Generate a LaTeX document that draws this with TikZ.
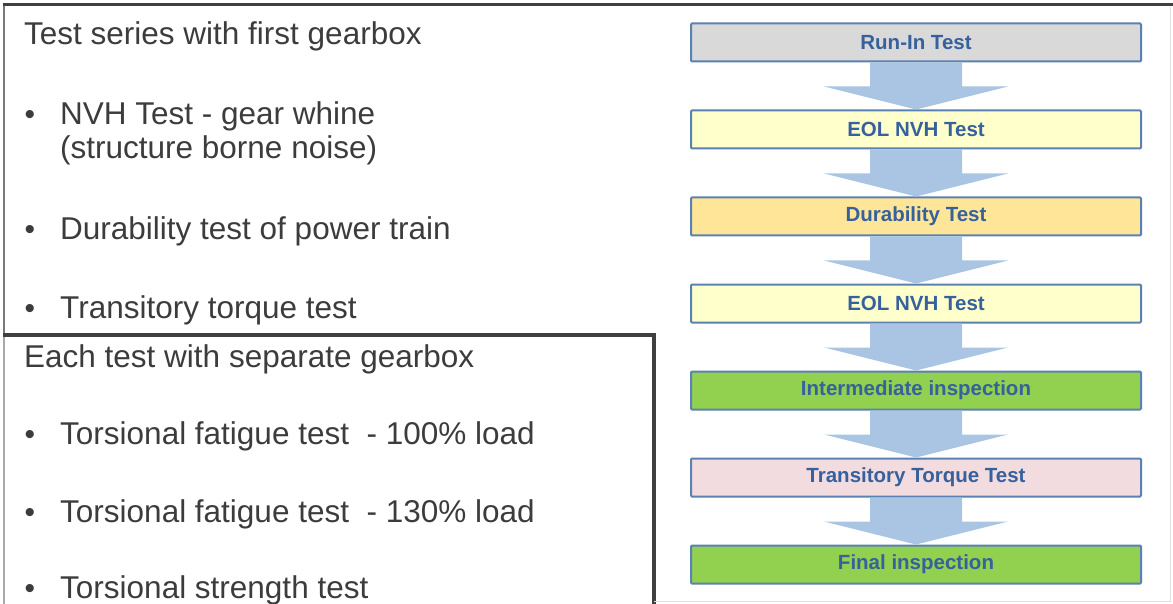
\documentclass[tikz,border=0pt]{standalone}
\usepackage{fontspec}
\setmainfont{Liberation Sans}
\usepackage{tikz}
\usetikzlibrary{positioning, calc}
\definecolor{TextGrey}{HTML}{3C3C3C}
\definecolor{FrameGrey}{HTML}{404040}
\definecolor{StepBlue}{HTML}{5B80B2}
\definecolor{StepText}{HTML}{36619C}
\definecolor{FlowBlue}{HTML}{A9C5E3}
\definecolor{RunGrey}{HTML}{D9D9D9}
\definecolor{NvhYellow}{HTML}{FFFFCC}
\definecolor{DurOrange}{HTML}{FFE597}
\definecolor{InspGreen}{HTML}{92D050}
\definecolor{TorqPink}{HTML}{F2DCE0}

\begin{document}
\begin{tikzpicture}[x=1pt, y=-1pt,
    stepbox/.style={draw=StepBlue, line width=2pt, rounded corners=1pt,
      minimum width=450pt, minimum height=38pt, inner sep=0pt,
      text=StepText, font=\fontsize{20.5}{24}\selectfont\bfseries},
    head/.style={anchor=base west, inner sep=0pt, text=TextGrey,
      font=\fontsize{31.5}{36}\selectfont},
    item/.style={head},
    bul/.style={anchor=base, inner sep=0pt, text=TextGrey,
      font=\fontsize{30}{36}\selectfont}]
  \useasboundingbox (0,0) rectangle (1173,604);
  % Frames
  \draw[FrameGrey!70, line width=2pt] (4,335) -- (4,5);
  \draw[FrameGrey, line width=3pt] (3,5) -- (1173,5);
  \draw[FrameGrey!45, line width=1.5pt] (4,335) -- (4,604);
  \draw[FrameGrey, line width=3.5pt] (3,335) -- (654,335) -- (654,604);
  \draw[black!12, line width=1pt] (654,601) -- (1170,601) -- (1170,7);
  % Test series with first gearbox
  \node[head] (first) at (24,45) {Test series with first gearbox};
  \node[bul] (bul1) at (30,125) {•};
  \node[item] (nvh) at (60,125) {NVH Test - gear whine};
  \node[item] (noise) at (60,159) {(structure borne noise)};
  \node[bul] (bul2) at (30,240) {•};
  \node[item] (durable) at (60,240) {Durability test of power train};
  \node[bul] (bul3) at (30,318) {•};
  \node[item] (transit) at (60,318) {Transitory torque test};
  % Each test with separate gearbox
  \node[head] (separate) at (24,367) {Each test with separate gearbox};
  \node[bul] (bul4) at (30,444) {•};
  \node[item] (fat100) at (60,444) {Torsional fatigue test \ - 100\% load};
  \node[bul] (bul5) at (30,522) {•};
  \node[item] (fat130) at (60,522) {Torsional fatigue test \ - 130\% load};
  \node[bul] (bul6) at (30,598) {•};
  \node[item] (strength) at (60,598) {Torsional strength test};
  % Test sequence
  \node[stepbox, fill=RunGrey] (runin) at (916,42.5) {Run-In Test};
  \node[stepbox, fill=NvhYellow, below=47pt of runin] (eolone) {EOL NVH Test};
  \node[stepbox, fill=DurOrange, below=47pt of eolone] (durtest) {Durability Test};
  \node[stepbox, fill=NvhYellow, below=47pt of durtest] (eoltwo) {EOL NVH Test};
  \node[stepbox, fill=InspGreen, below=47pt of eoltwo] (interinsp) {Intermediate inspection};
  \node[stepbox, fill=TorqPink, below=47pt of interinsp] (torqtest) {Transitory Torque Test};
  \node[stepbox, fill=InspGreen, below=47pt of torqtest] (finalinsp) {Final inspection};
  % Block arrows
  \foreach \a/\b in {runin/eolone, eolone/durtest, durtest/eoltwo,
      eoltwo/interinsp, interinsp/torqtest, torqtest/finalinsp}
    \fill[FlowBlue] ($(\a.south)+(-46,0)$) -- ($(\a.south)+(46,0)$)
      -- ($(\b.north)+(46,-23)$) -- ($(\b.north)+(92,-23)$) -- (\b.north)
      -- ($(\b.north)+(-92,-23)$) -- ($(\b.north)+(-46,-23)$) -- cycle;
\end{tikzpicture}
\end{document}
